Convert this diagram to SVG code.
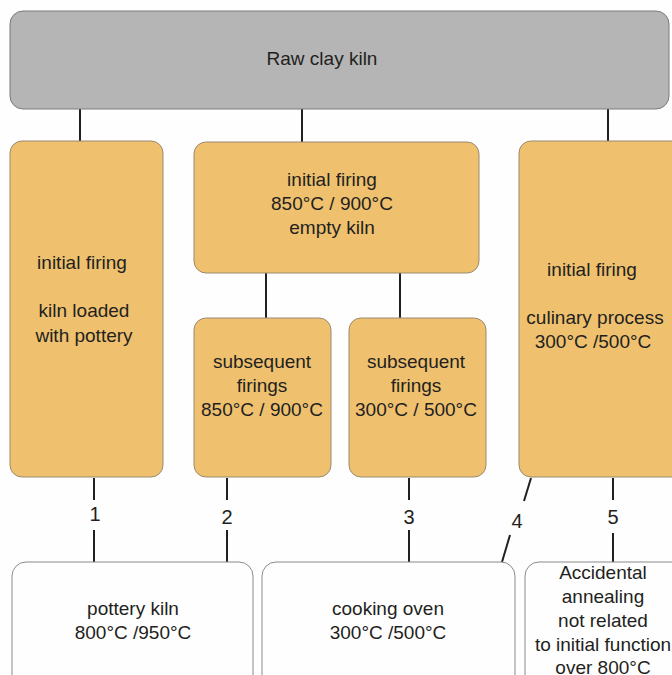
<svg xmlns="http://www.w3.org/2000/svg" width="672" height="675" viewBox="0 0 672 675">
<style>
.root{fill:#b5b5b5;stroke:#7a7a7a;stroke-width:1}
.org{fill:#efc16f;stroke:#9a8a70;stroke-width:1}
.out{fill:#fefefe;stroke:#8a8a8a;stroke-width:1}
text{font-family:"Liberation Sans",Arial,sans-serif;font-size:19px;fill:#231f20;text-anchor:middle}
.c text{font-size:20px}
.c line{stroke:#231f20;stroke-width:2}
</style>
<rect width="672" height="675" fill="#fefefe"/>
<g class="c" id="connectors">
<line x1="80" y1="109" x2="80" y2="141"/>
<line x1="302" y1="109" x2="302" y2="142"/>
<line x1="608" y1="109" x2="608" y2="141"/>
<line x1="266" y1="273" x2="266" y2="318"/>
<line x1="400" y1="273" x2="400" y2="318"/>
<line x1="94" y1="478" x2="94" y2="500"/>
<line x1="94" y1="530" x2="94" y2="562"/>
<line x1="227" y1="478" x2="227" y2="500"/>
<line x1="227" y1="530" x2="227" y2="562"/>
<line x1="409" y1="478" x2="409" y2="500"/>
<line x1="409" y1="530" x2="409" y2="562"/>
<line x1="531" y1="478" x2="524" y2="501"/>
<line x1="510" y1="535" x2="502" y2="562"/>
<line x1="613" y1="478" x2="613" y2="500"/>
<line x1="613" y1="533" x2="613" y2="562"/>
<text x="95" y="521">1</text>
<text x="227" y="524">2</text>
<text x="409" y="524">3</text>
<text x="517" y="528">4</text>
<text x="613" y="524">5</text>
</g>
<g id="raw"><rect class="root" x="10" y="11" width="659" height="98" rx="13"/><text x="322" y="65">Raw clay kiln</text></g>
<g id="left"><rect class="org" x="10" y="141" width="153" height="336" rx="12"/>
<text x="82" y="269">initial firing</text><text x="84" y="317">kiln loaded</text><text x="84" y="342">with pottery</text></g>
<g id="mid"><rect class="org" x="194" y="142" width="285" height="131" rx="12"/>
<text x="332" y="186">initial firing</text><text x="332" y="210">850°C / 900°C</text><text x="332" y="234">empty kiln</text></g>
<g id="sub1"><rect class="org" x="194" y="318" width="137" height="159" rx="12"/>
<text x="262" y="368">subsequent</text><text x="262" y="392">firings</text><text x="262" y="416">850°C / 900°C</text></g>
<g id="sub2"><rect class="org" x="349" y="318" width="137" height="159" rx="12"/>
<text x="416" y="368">subsequent</text><text x="416" y="392">firings</text><text x="416" y="416">300°C / 500°C</text></g>
<g id="right"><rect class="org" x="519" y="141" width="170" height="336" rx="12"/>
<text x="592" y="276">initial firing</text><text x="595" y="324">culinary process</text><text x="593" y="348">300°C /500°C</text></g>
<g id="pottery"><rect class="out" x="12" y="562" width="241" height="130" rx="14"/>
<text x="133" y="615">pottery kiln</text><text x="133" y="639">800°C /950°C</text></g>
<g id="cooking"><rect class="out" x="262" y="562" width="253" height="130" rx="14"/>
<text x="388" y="615">cooking oven</text><text x="388" y="639">300°C /500°C</text></g>
<g id="accidental"><rect class="out" x="525" y="562" width="170" height="130" rx="14"/>
<text x="603" y="579">Accidental</text><text x="603" y="603">annealing</text><text x="603" y="627">not related</text><text x="603" y="651">to initial function</text><text x="603" y="674">over 800°C</text></g>
</svg>
